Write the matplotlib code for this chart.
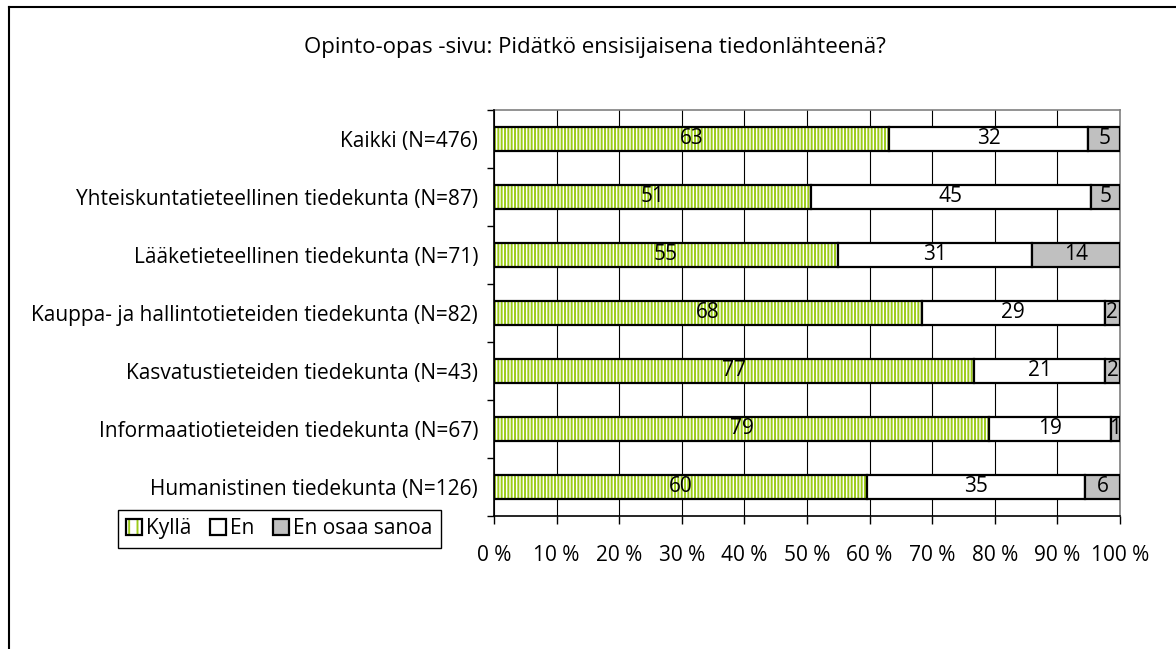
import matplotlib
matplotlib.use("Agg")
import matplotlib.pyplot as plt
from matplotlib.lines import Line2D
from matplotlib.patches import Patch
import numpy as np

plt.rcParams['font.family'] = ['Open Sans', 'DejaVu Sans']
plt.rcParams['hatch.linewidth'] = 1.4

title = "Opinto-opas -sivu: Pidätkö ensisijaisena tiedonlähteenä?"
categories = [
    "Kaikki (N=476)",
    "Yhteiskuntatieteellinen tiedekunta (N=87)",
    "Lääketieteellinen tiedekunta (N=71)",
    "Kauppa- ja hallintotieteiden tiedekunta (N=82)",
    "Kasvatustieteiden tiedekunta (N=43)",
    "Informaatiotieteiden tiedekunta (N=67)",
    "Humanistinen tiedekunta (N=126)",
]
series_names = ["Kyllä", "En", "En osaa sanoa"]
# answer counts per group (consistent with shown percentages and N)
kylla = [300, 44, 39, 56, 33, 53, 75]
en = [152, 39, 22, 24, 9, 13, 44]
eos = [24, 4, 10, 2, 1, 1, 7]
xtick_values = [0, 10, 20, 30, 40, 50, 60, 70, 80, 90, 100]
xtick_labels = [f"{v} %" for v in xtick_values]

GREEN = '#9CCB19'
FS = 15

data = np.array([kylla, en, eos], dtype=float)
pct = data / data.sum(axis=0) * 100

fig = plt.figure(figsize=(11.76, 6.49), dpi=100)
ax = fig.add_axes([494/1176, 1-516/649, (1120-494)/1176, (516-110)/649])

y = np.arange(len(categories))
h = 0.40
left = np.zeros(len(categories))
for i in range(3):
    w = pct[i]
    if i == 0:
        ax.barh(y, w, left=left, height=h, color='white', edgecolor=GREEN,
                hatch='|||||', linewidth=0, zorder=3)
        ax.barh(y, w, left=left, height=h, fill=False, edgecolor='black',
                linewidth=1.6, zorder=4)
    else:
        fc = 'white' if i == 1 else '#C0C0C0'
        ax.barh(y, w, left=left, height=h, color=fc, edgecolor='black',
                linewidth=1.6, zorder=4)
    for j in range(len(categories)):
        ax.text(left[j] + w[j]/2, y[j], f"{round(w[j]):d}", ha='center', va='center',
                fontsize=FS, color='black', zorder=5)
    left += w

ax.set_xlim(0, 100)
ax.set_ylim(len(categories)-0.5, -0.5)
ax.set_xticks(xtick_values)
ax.set_xticklabels(xtick_labels, fontsize=FS)
ax.set_yticks(y)
ax.set_yticklabels(categories, fontsize=FS)
ax.set_yticks(np.arange(len(categories)+1)-0.5, minor=True)
ax.tick_params(axis='y', which='major', length=0, pad=11.5)
ax.tick_params(axis='y', which='minor', length=5, width=1, color='black')
ax.tick_params(axis='x', which='major', length=6, width=1, color='black', pad=15)
ax.grid(axis='x', color='black', linewidth=0.8, zorder=1)
ax.set_axisbelow(True)
for s in ['left', 'bottom']:
    ax.spines[s].set_color('black')
    ax.spines[s].set_linewidth(1.2)
    ax.spines[s].set_zorder(6)
for s in ['top', 'right']:
    ax.spines[s].set_color('#808080')
    ax.spines[s].set_linewidth(1.2)

fig.text(595/1176, 1-47/649, title, ha='center', va='center', fontsize=16)

h_k = (Patch(facecolor='white', edgecolor=GREEN, hatch='||', linewidth=0),
       Patch(fill=False, edgecolor='black', linewidth=1.6))
handles = [
    h_k,
    Patch(facecolor='white', edgecolor='black', linewidth=1.6),
    Patch(facecolor='#C0C0C0', edgecolor='black', linewidth=1.6),
]
leg = fig.legend(handles, series_names, loc='upper left',
                 bbox_to_anchor=(118/1176, 1-510/649), ncol=3, fontsize=FS,
                 handlelength=0.75, handleheight=0.75, handletextpad=0.2,
                 columnspacing=0.9, borderpad=0.4, fancybox=False,
                 edgecolor='black', framealpha=1, borderaxespad=0)
leg.get_frame().set_linewidth(1.0)

fig.add_artist(Line2D([8.5/1176, 8.5/1176], [0, 1-6.5/649], transform=fig.transFigure,
                      color='black', linewidth=1.5))
fig.add_artist(Line2D([8.5/1176, 1], [1-6.5/649, 1-6.5/649], transform=fig.transFigure,
                      color='black', linewidth=1.5))

fig.savefig("out.png", dpi=100)
